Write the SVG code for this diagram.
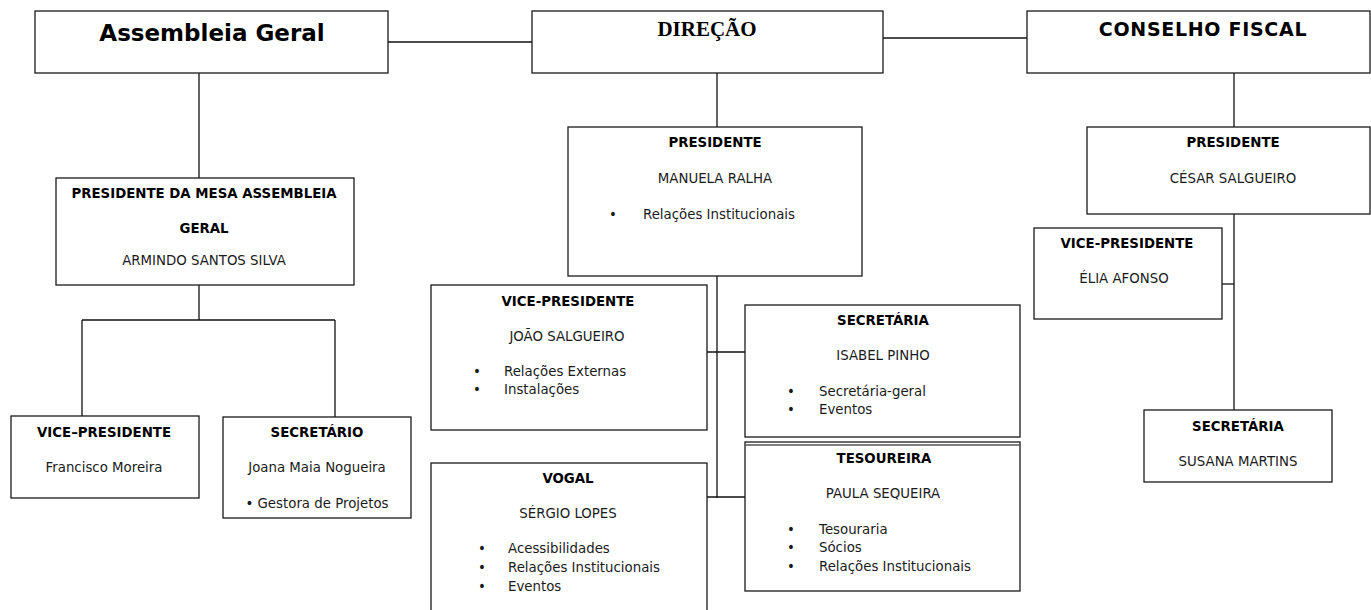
<svg xmlns="http://www.w3.org/2000/svg" width="1371" height="610" viewBox="0 0 1371 610">
<style>
  .box{fill:#fff;stroke:#1a1a1a;stroke-width:1.3}
  .ln{fill:none;stroke:#111;stroke-width:1.3}
  .t{font-family:"DejaVu Sans",Verdana,sans-serif;font-size:13.33px;fill:#1a1a1a}
  .b{font-family:"DejaVu Sans",Verdana,sans-serif;font-size:13.33px;font-weight:bold;fill:#000}
  .c{text-anchor:middle}
  .h{font-family:"DejaVu Sans",Verdana,sans-serif;font-weight:bold;fill:#000;text-anchor:middle}
</style>
<rect width="1371" height="610" fill="#fff"/>
<g id="connectors">
  <line class="ln" x1="388" y1="42" x2="532" y2="42"/>
  <line class="ln" x1="883" y1="38" x2="1027" y2="38"/>
  <line class="ln" x1="199" y1="73" x2="199" y2="178"/>
  <line class="ln" x1="199" y1="285" x2="199" y2="320"/>
  <line class="ln" x1="82" y1="320" x2="335" y2="320"/>
  <line class="ln" x1="82" y1="320" x2="82" y2="416"/>
  <line class="ln" x1="335" y1="320" x2="335" y2="417"/>
  <line class="ln" x1="717" y1="73" x2="717" y2="127"/>
  <line class="ln" x1="717" y1="276" x2="717" y2="498"/>
  <line class="ln" x1="707" y1="352" x2="745" y2="352"/>
  <line class="ln" x1="707" y1="497" x2="745" y2="497"/>
  <line class="ln" x1="1234" y1="73" x2="1234" y2="127"/>
  <line class="ln" x1="1234" y1="214" x2="1234" y2="410"/>
  <line class="ln" x1="1222" y1="284" x2="1234" y2="284"/>
</g>
<g id="assembleia">
  <rect class="box" x="35" y="11" width="353" height="62"/>
  <text class="h" x="212" y="41" font-size="23">Assembleia Geral</text>
</g>
<g id="direcao">
  <rect class="box" x="532" y="11" width="351" height="62"/>
  <text x="707" y="36" text-anchor="middle" font-family="'Liberation Serif','Times New Roman',serif" font-weight="bold" font-size="21" fill="#000">DIREÇÃO</text>
</g>
<g id="conselho">
  <rect class="box" x="1027" y="11" width="343" height="62"/>
  <text class="h" x="1203" y="36" font-size="19" letter-spacing="0.7">CONSELHO FISCAL</text>
</g>
<g id="pres-mesa">
  <rect class="box" x="56" y="178" width="298" height="107"/>
  <text class="b c" x="204" y="198">PRESIDENTE DA MESA ASSEMBLEIA</text>
  <text class="b c" x="204" y="233">GERAL</text>
  <text class="t c" x="204" y="265">ARMINDO SANTOS SILVA</text>
</g>
<g id="vice-ag">
  <rect class="box" x="11" y="416" width="188" height="82"/>
  <text class="b c" x="104" y="437">VICE–PRESIDENTE</text>
  <text class="t c" x="104" y="472">Francisco Moreira</text>
</g>
<g id="sec-ag">
  <rect class="box" x="223" y="417" width="188" height="101"/>
  <text class="b c" x="317" y="437">SECRETÁRIO</text>
  <text class="t c" x="317" y="472">Joana Maia Nogueira</text>
  <text class="t c" x="317" y="508">• Gestora de Projetos</text>
</g>
<g id="pres-dir">
  <rect class="box" x="568" y="127" width="294" height="149"/>
  <text class="b c" x="715" y="147">PRESIDENTE</text>
  <text class="t c" x="715" y="183">MANUELA RALHA</text>
  <text class="t" x="609" y="219">•</text>
  <text class="t" x="643" y="219">Relações Institucionais</text>
</g>
<g id="vice-dir">
  <rect class="box" x="431" y="285" width="276" height="145"/>
  <text class="b c" x="568" y="306">VICE-PRESIDENTE</text>
  <text class="t c" x="567" y="341">JOÃO SALGUEIRO</text>
  <text class="t" x="473" y="376">•</text>
  <text class="t" x="504" y="376">Relações Externas</text>
  <text class="t" x="473" y="394">•</text>
  <text class="t" x="504" y="394">Instalações</text>
</g>
<g id="vogal">
  <rect class="box" x="431" y="463" width="276" height="160"/>
  <text class="b c" x="568" y="483">VOGAL</text>
  <text class="t c" x="568" y="518">SÉRGIO LOPES</text>
  <text class="t" x="478" y="553">•</text>
  <text class="t" x="508" y="553">Acessibilidades</text>
  <text class="t" x="478" y="572">•</text>
  <text class="t" x="508" y="572">Relações Institucionais</text>
  <text class="t" x="478" y="591">•</text>
  <text class="t" x="508" y="591">Eventos</text>
</g>
<g id="sec-dir">
  <rect class="box" x="745" y="305" width="275" height="132"/>
  <text class="b c" x="883" y="325">SECRETÁRIA</text>
  <text class="t c" x="883" y="360">ISABEL PINHO</text>
  <text class="t" x="787" y="396">•</text>
  <text class="t" x="819" y="396">Secretária-geral</text>
  <text class="t" x="787" y="414">•</text>
  <text class="t" x="819" y="414">Eventos</text>
</g>
<g id="tesoureira">
  <rect class="box" x="745" y="442" width="275" height="149"/>
  <line x1="745" y1="445" x2="1020" y2="445" stroke="#555" stroke-width="1.3"/>
  <text class="b c" x="884" y="463">TESOUREIRA</text>
  <text class="t c" x="883" y="498">PAULA SEQUEIRA</text>
  <text class="t" x="787" y="534">•</text>
  <text class="t" x="819" y="534">Tesouraria</text>
  <text class="t" x="787" y="552">•</text>
  <text class="t" x="819" y="552">Sócios</text>
  <text class="t" x="787" y="571">•</text>
  <text class="t" x="819" y="571">Relações Institucionais</text>
</g>
<g id="pres-cf">
  <rect class="box" x="1087" y="127" width="283" height="87"/>
  <text class="b c" x="1233" y="147">PRESIDENTE</text>
  <text class="t c" x="1233" y="183">CÉSAR SALGUEIRO</text>
</g>
<g id="vice-cf">
  <rect class="box" x="1034" y="228" width="188" height="91"/>
  <text class="b c" x="1127" y="248">VICE-PRESIDENTE</text>
  <text class="t c" x="1124" y="283">ÉLIA AFONSO</text>
</g>
<g id="sec-cf">
  <rect class="box" x="1144" y="410" width="188" height="72"/>
  <text class="b c" x="1238" y="431">SECRETÁRIA</text>
  <text class="t c" x="1238" y="466">SUSANA MARTINS</text>
</g>
</svg>
